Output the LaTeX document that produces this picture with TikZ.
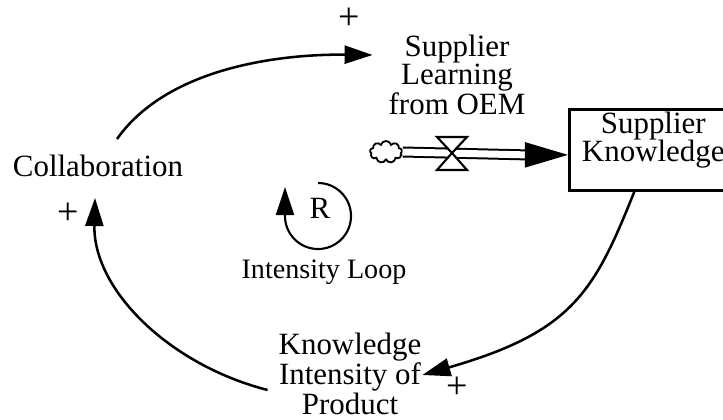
\documentclass[tikz,border=0pt]{standalone}
\usepackage{fontspec}
\setmainfont{Liberation Serif}
\usetikzlibrary{arrows.meta,shapes.symbols}
\newcommand{\vfont}{\fontsize{22}{20}\selectfont}
\newcommand{\lfont}{\fontsize{20}{20}\selectfont}
\tikzset{
  var/.style={align=center,inner sep=2pt,font=\vfont},
  stock/.style={draw,line width=1.8pt,align=center,font=\vfont,minimum width=4.2cm,inner ysep=2pt,text depth=0.65cm},
  pls/.style={inner sep=0pt,font=\fontsize{27}{27}\selectfont},
  lnk/.style={line width=1.8pt,-{Triangle[length=0.7cm,width=0.45cm]}},
  pipe/.style={double,double distance=0.175cm,line width=0.05cm},
  flw/.style={line width=0.05cm,-{Triangle[length=1.075cm,width=0.625cm]}},
  vlv/.style={line width=1.5pt,fill=white,line join=miter},
  cld/.style={cloud,draw,cloud puffs=9,aspect=1.4,minimum width=0.8cm,minimum height=0.55cm,inner sep=0pt,line width=1.3pt},
}

\begin{document}
\begin{tikzpicture}[x=0.025cm,y=0.025cm]
  \useasboundingbox (0,0) rectangle (723,420);
  \node[var] (collab) at (98,254) {Collaboration};
  \node[var] (learn) at (457,345) {Supplier\\Learning\\from OEM};
  \node[stock,anchor=north west] (know) at (568,312) {Supplier\\Knowledge};
  \node[var] (kip) at (350,46) {Knowledge\\Intensity of\\Product};
  \node[cld] (src) at (386,268) {};
  \coordinate (valve) at (452,267);
  \node[pls] (p1) at (349,401) {+};
  \node[pls] (p2) at (68,206) {+};
  \node[pls] (p3) at (457,32) {+};
  \node[var] (r) at (320,212) {R};
  \node[var,font=\lfont] (loopname) at (324,148) {Intensity Loop};

  \draw[pipe] (src.east) -- ([shift={(-43,-5)}]know.west);
  \draw[flw] ([shift={(-43,-5)}]know.west) -- ([shift={(0,-5)}]know.west);
  \draw[vlv] (valve) -- ++(-15,16) -- ++(30,0) -- cycle;
  \draw[vlv] (valve) -- ++(-15,-17) -- ++(30,0) -- cycle;

  \draw[lnk] ([shift={(19,13)}]collab.north) .. controls +(53,75) and +(-83,1) .. ([shift={(-13,20)}]learn.west);
  \draw[lnk] ([shift={(-19,0)}]know.south) .. controls +(-40,-100) and +(150,43) .. ([shift={(-2,-1)}]kip.east);
  \draw[lnk] ([shift={(-8,-16)}]kip.west) .. controls +(-98,25) and +(-2,-92) .. ([shift={(-3,-18)}]collab.south);
  \draw[lnk,line width=1.5pt] ([shift={(-2,25)}]r.center) arc[start angle=90,end angle=-180,radius=0.825cm] -- ++(0,29);
\end{tikzpicture}
\end{document}
